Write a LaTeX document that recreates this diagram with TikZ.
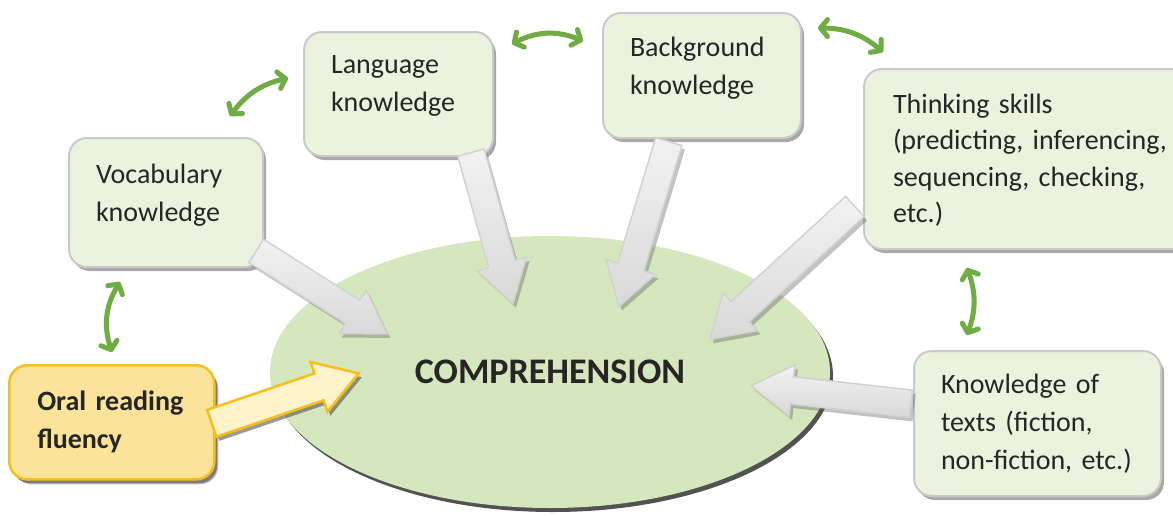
\documentclass[tikz,border=0pt]{standalone}
\usepackage{fontspec}
\setmainfont{Carlito}
\usepackage{xcolor}
\definecolor{boxgreen}{HTML}{EBF2DE}
\definecolor{ovalgreen}{HTML}{D5E7BC}
\definecolor{linkgreen}{HTML}{6FAC44}
\definecolor{edgegrey}{HTML}{C9C9C9}
\definecolor{shadegrey}{HTML}{A8A8A8}
\definecolor{goldfill}{HTML}{FBE49A}
\definecolor{goldedge}{HTML}{F8BF1C}
\definecolor{goldlight}{HTML}{FFF3CC}
\definecolor{inkgrey}{HTML}{262626}
\usepackage{tikz}
\usetikzlibrary{shapes.geometric,shapes.arrows,shadows,calc,arrows.meta}
\tikzstyle{knowbox} = [shape=rectangle, rounded corners=18pt, line width=2pt, draw=edgegrey, fill=boxgreen, anchor=north west, align=left, inner xsep=27pt, text=inkgrey, font=\fontsize{28}{38}\selectfont, drop shadow={shadow xshift=3pt, shadow yshift=-4pt, fill=shadegrey, opacity=1}]
\tikzstyle{fluencybox} = [knowbox, line width=2.5pt, draw=goldedge, fill=goldfill, inner xsep=28pt, font=\bfseries\fontsize{28}{38}\selectfont, drop shadow={shadow xshift=4pt, shadow yshift=-5pt, fill=black, opacity=0.25}]
\tikzstyle{oval} = [shape=ellipse, minimum width=560pt, minimum height=272pt, inner sep=0pt, fill=ovalgreen, text=inkgrey, font=\bfseries\fontsize{36}{40}\selectfont, drop shadow={shadow xshift=3pt, shadow yshift=-4pt, fill=black!68, opacity=1}]
\tikzstyle{bigarrow} = [single arrow, single arrow tip angle=64, single arrow head extend=12pt, inner xsep=0pt, inner ysep=13pt, minimum width=0pt, line width=1.5pt, draw=gray!35, top color=gray!10, bottom color=gray!30, drop shadow={shadow xshift=3pt, shadow yshift=-4pt, fill=black!60, opacity=0.4}]
\tikzstyle{fluencyarrow} = [bigarrow, line width=2.5pt, draw=goldedge, top color=goldlight, bottom color=goldlight, drop shadow={shadow xshift=3pt, shadow yshift=-4pt, fill=black, opacity=0.2}]
\tikzstyle{link} = [draw=linkgreen, line width=5pt, {Straight Barb[length=7pt,width=17pt,round]}-{Straight Barb[length=7pt,width=17pt,round]}]

\begin{document}
\begin{tikzpicture}[x=1pt, y=-1pt]
  \useasboundingbox (0,0) rectangle (1173,515);

  % the centre
  \node[oval] (comp) at (550,372) {COMPREHENSION};

  % what feeds it
  \node[knowbox, minimum width=194pt, minimum height=129pt, text width=140pt, text depth=58pt] (voc) at (68,137) {Vocabulary\\knowledge};
  \node[knowbox, minimum width=189pt, minimum height=124pt, text width=135pt, text depth=58pt] (lang) at (303,31) {Language\\knowledge};
  \node[knowbox, minimum width=198pt, minimum height=125pt, text width=144pt, text depth=58pt] (back) at (602,12) {Background\\knowledge};
  \node[knowbox, minimum width=330pt, minimum height=180pt, text width=280pt, inner xsep=29pt, text depth=111pt, font=\fontsize{28}{36.5}\selectfont] (think) at (863,68) {Thinking skills\\(predicting, inferencing,\\sequencing, checking,\\etc.)};
  \node[knowbox, minimum width=247pt, minimum height=145pt, text width=193pt] (texts) at (913,350) {Knowledge of\\texts (fiction,\\non-fiction, etc.)};
  \node[fluencybox, minimum width=205pt, minimum height=114pt, text width=149pt] (oral) at (8,364) {Oral reading\\fluency};

  % ends of the block arrows
  \coordinate (vtail) at (247,245);   \coordinate (vtip) at (378,328);
  \coordinate (ltail) at (468,142);   \coordinate (ltip) at (510,293);
  \coordinate (btail) at (672,131);   \coordinate (btip) at (622,296);
  \coordinate (ttail) at (863,199);   \coordinate (ttip) at (718,332);
  \coordinate (xtail) at (922,405);   \coordinate (xtip) at (762,387);
  \coordinate (otail) at (201,427);   \coordinate (otip) at (348,377);

  \foreach \from/\to/\kind in {vtail/vtip/bigarrow, ltail/ltip/bigarrow, btail/btip/bigarrow, ttail/ttip/bigarrow, xtail/xtip/bigarrow, otail/otip/fluencyarrow}
    \path let \p1 = ($(\to)-(\from)$), \n1 = {veclen(\x1,\y1)} in
      (\from) -- node[\kind, sloped, allow upside down, minimum height=\n1] {} (\to);

  % links between the boxes
  \coordinate (vl1) at (230,116);  \coordinate (vl2) at (288,78);
  \coordinate (lb1) at (512,44);   \coordinate (lb2) at (583,41);
  \coordinate (bt1) at (818,28);   \coordinate (bt2) at (883,52);
  \coordinate (tx1) at (967,268);  \coordinate (tx2) at (967,335);
  \coordinate (vo1) at (120,282);  \coordinate (vo2) at (112,352);

  \draw[link] (vl1) to[bend left=20] (vl2);
  \draw[link] (lb1) to[bend left=25] (lb2);
  \draw[link] (bt1) to[bend left=20] (bt2);
  \draw[link] (tx1) to[bend left=20] (tx2);
  \draw[link] (vo1) to[bend right=25] (vo2);
\end{tikzpicture}
\end{document}
